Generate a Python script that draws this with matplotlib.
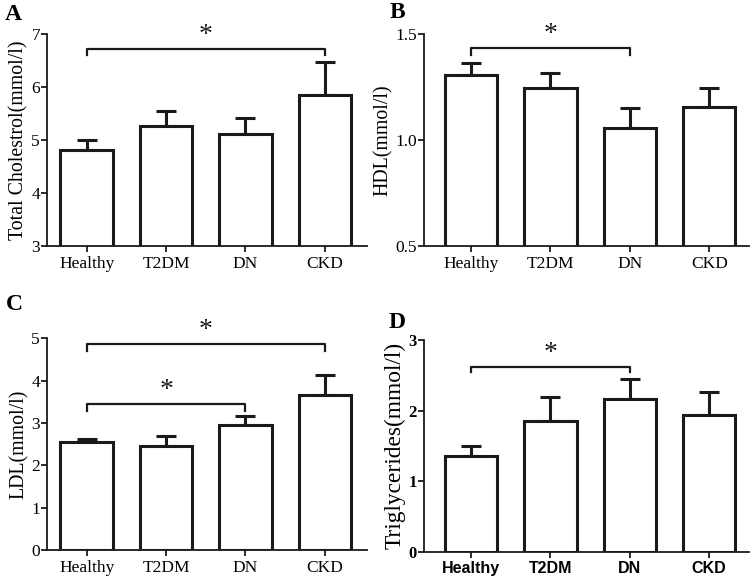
import numpy as np
import matplotlib.pyplot as plt
import matplotlib

matplotlib.rcParams['font.family'] = ['Liberation Serif', 'DejaVu Serif']

groups = ["Healthy", "T2DM", "DN", "CKD"]

# mean values and upper error (SEM)
tc_mean = [4.82, 5.26, 5.12, 5.84]
tc_err = [0.18, 0.29, 0.29, 0.63]
hdl_mean = [1.305, 1.244, 1.057, 1.157]
hdl_err = [0.058, 0.073, 0.092, 0.087]
ldl_mean = [2.54, 2.46, 2.96, 3.67]
ldl_err = [0.09, 0.24, 0.21, 0.46]
tg_mean = [1.35, 1.85, 2.17, 1.94]
tg_err = [0.15, 0.34, 0.28, 0.33]

# significance brackets: (from group, to group, height, tip drop)
tc_sig = [(0, 3, 6.72, 0.11)]
hdl_sig = [(0, 2, 1.432, 0.032)]
ldl_sig = [(0, 3, 4.86, 0.16), (0, 2, 3.45, 0.16)]
tg_sig = [(0, 2, 2.62, 0.08)]

panels = [
    ("A", "Total Cholestrol(mmol/l)", tc_mean, tc_err, tc_sig,
     (3, 7), [3, 4, 5, 6, 7], ["3", "4", "5", "6", "7"],
     [0.0623, 0.5759, 0.4244, 0.3655], (-0.5, 3.53), (5, 14), 14.3),
    ("B", "HDL(mmol/l)", hdl_mean, hdl_err, hdl_sig,
     (0.5, 1.5), [0.5, 1.0, 1.5], ["0.5", "1.0", "1.5"],
     [0.5623, 0.5759, 0.431, 0.3655], (-0.59, 3.5), (390, 13), 14.3),
    ("C", "LDL(mmol/l)", ldl_mean, ldl_err, ldl_sig,
     (0, 5), [0, 1, 2, 3, 4, 5], ["0", "1", "2", "3", "4", "5"],
     [0.0623, 0.0517, 0.4244, 0.365], (-0.5, 3.53), (6, 304), 14.3),
    ("D", "Triglycerides(mmol/l)", tg_mean, tg_err, tg_sig,
     (0, 3), [0, 1, 2, 3], ["0", "1", "2", "3"],
     [0.5623, 0.0488, 0.431, 0.365], (-0.59, 3.5), (389, 322), 16.8),
]

W, H = 754, 580
fig = plt.figure(figsize=(W / 100, H / 100), dpi=100)
lw = 2.2

for (letter, ylabel, mean, err, sig, ylim, yticks, ylabels, pos, xlim,
     letter_xy, ylabel_size) in panels:
    ax = fig.add_axes(pos)
    x = np.arange(len(groups))
    ax.bar(x, mean, width=0.66, color="white", edgecolor="#1a1a1a",
           linewidth=lw, zorder=2)
    ax.errorbar(x, mean, yerr=[np.zeros(len(err)), err], fmt="none",
                ecolor="#1a1a1a", elinewidth=lw, capsize=7.5, capthick=lw,
                zorder=1)
    ax.set_ylim(*ylim)
    ax.set_xlim(*xlim)
    for spine in ["top", "right"]:
        ax.spines[spine].set_visible(False)
    for spine in ["left", "bottom"]:
        ax.spines[spine].set_linewidth(1.3)
        ax.spines[spine].set_color("#1a1a1a")
    ax.tick_params(axis="both", direction="out", length=4, width=1.3,
                   pad=1, labelsize=12.5, color="#1a1a1a")
    ax.set_xticks(x)
    ax.set_yticks(yticks)
    if letter == "D":
        ax.set_xticklabels(groups, fontfamily="Liberation Sans",
                           fontweight="bold", fontsize=11.5)
        ax.set_yticklabels(ylabels, fontweight="bold", fontsize=12)
    else:
        ax.set_xticklabels(groups)
        ax.set_yticklabels(ylabels)
    ax.tick_params(axis="x", pad=3)
    ax.set_ylabel(ylabel, fontsize=ylabel_size, labelpad=2)

    span = ylim[1] - ylim[0]
    for i0, i1, h, drop in sig:
        ax.plot([i0, i0, i1, i1], [h - drop, h, h, h - drop],
                color="#1a1a1a", linewidth=1.6, clip_on=False)
        ax.text((i0 + i1) / 2, h + span * 0.005, "*", ha="center",
                va="bottom", fontsize=20, color="#1a1a1a")

    fig.text(letter_xy[0] / W, 1 - letter_xy[1] / H, letter,
             fontsize=17, fontweight="bold", va="center", ha="left")

plt.savefig("out.png", dpi=100)
